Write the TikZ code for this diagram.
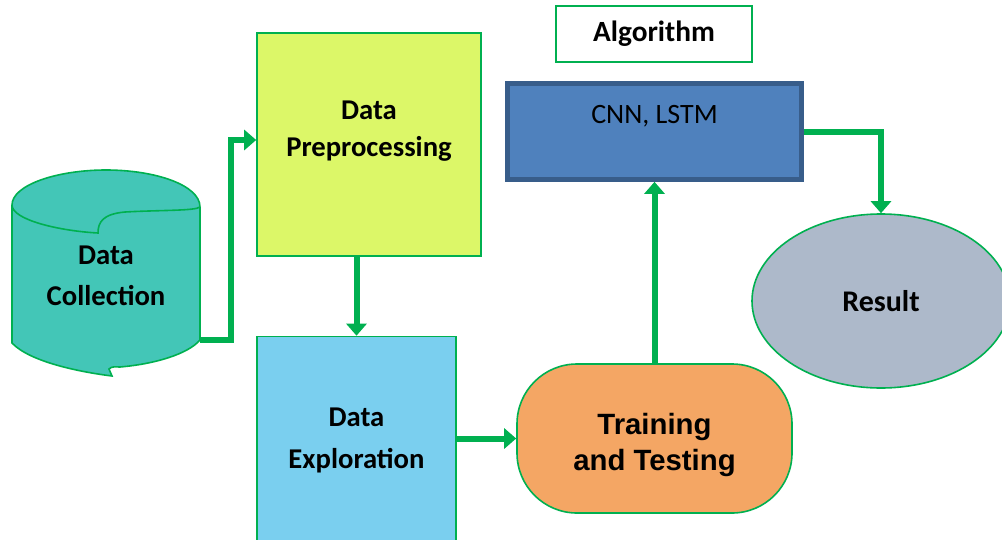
\documentclass[tikz,border=0pt]{standalone}
\usepackage{fontspec}
\setmainfont{Carlito}
\newfontfamily\arialf{Liberation Sans}
\usetikzlibrary{arrows.meta,shapes.geometric}
\definecolor{lgreen}{HTML}{00B050}
\definecolor{prepfill}{HTML}{DCF768}
\definecolor{explfill}{HTML}{7ACFEF}
\definecolor{trainfill}{HTML}{F4A664}
\definecolor{cnnfill}{HTML}{4F81BD}
\definecolor{cnnborder}{HTML}{385D8A}
\definecolor{resfill}{HTML}{ADB9CA}
\definecolor{cylfill}{HTML}{43C6B7}
\tikzset{
  box/.style={draw=lgreen, line width=1.2pt, inner sep=0pt, align=center, font=\bfseries\fontsize{21.5}{31}\selectfont},
  conn/.style={draw=lgreen, line width=4.5pt, -{Triangle[length=9pt,width=15pt]}},
  bigtext/.style={font=\bfseries\fontsize{21.5}{31}\selectfont, align=center}
}
\begin{document}
\begin{tikzpicture}[x=0.75pt,y=-0.75pt]
\useasboundingbox (0,0) rectangle (1002,539);
% cylinder (data collection)
\path[fill=cylfill, draw=lgreen, line width=1.2pt]
  (12,205) -- (12,343)
  .. controls (30,362) and (80,372) .. (112,376)
  -- (109,369)
  .. controls (112,366) and (116,367) .. (120,367)
  .. controls (155,364) and (188,354) .. (200,340)
  -- (200,207)
  .. controls (200,185) and (155,170) .. (106,170)
  .. controls (57,170) and (12,185) .. (12,205) -- cycle;
\draw[lgreen, line width=1.2pt]
  (12,205) .. controls (12,220) and (60,231) .. (98,233)
  .. controls (98,222) and (103,214) .. (125,212)
  .. controls (160,210) and (195,211) .. (200,207);
\node[bigtext] (coll) at (106,276) {Data\\Collection};
\coordinate (collout) at (200,340);
\coordinate (bend) at (231,140);
% boxes
\node[box, fill=prepfill, minimum width=168pt, minimum height=167.25pt,
  label={[bigtext, font=\bfseries\fontsize{21.5}{28}\selectfont, yshift=10pt]center:Data\\Preprocessing}] (prep) at (369,144.5) {};
\node[box, fill=explfill, minimum width=149.25pt, minimum height=156pt] (expl) at (356.5,440.5) {Data\\Exploration};
\node[box, fill=trainfill, rounded corners=45pt, minimum width=206.25pt, minimum height=111.75pt,
  label={[font=\arialf\bfseries\fontsize{22}{27}\selectfont, align=center, yshift=-4.5pt]center:Training\\and Testing}] (train) at (654.5,438.5) {};
\node[draw=cnnborder, line width=3.5pt, fill=cnnfill, minimum width=220.5pt, minimum height=72pt, inner sep=0pt,
  label={[font=\fontsize{21}{25}\selectfont, yshift=11.6pt]center:CNN, LSTM}] (cnn) at (654.5,131.5) {};
\node[draw=lgreen, line width=0.9pt, fill=white, minimum width=147pt, minimum height=42pt, inner sep=0pt, font=\bfseries\fontsize{22}{26}\selectfont] (algo) at (654,34) {\raisebox{-2pt}{Algorithm}};
\node[ellipse, draw=lgreen, line width=1.2pt, fill=resfill, minimum width=193.5pt, minimum height=130.5pt, inner sep=0pt, font=\bfseries\fontsize{22.5}{26}\selectfont] (res) at (881,301) {Result};
% connectors
\draw[conn] (collout) -| (bend) -- (bend -| prep.west);
\draw[conn] (prep.south -| expl.north) -- (expl.north);
\draw[conn] (expl.east |- train.west) -- (train.west);
\draw[conn] (train.north) -- (cnn.south);
\draw[conn] (cnn.east) -| (res.north);
\end{tikzpicture}
\end{document}
